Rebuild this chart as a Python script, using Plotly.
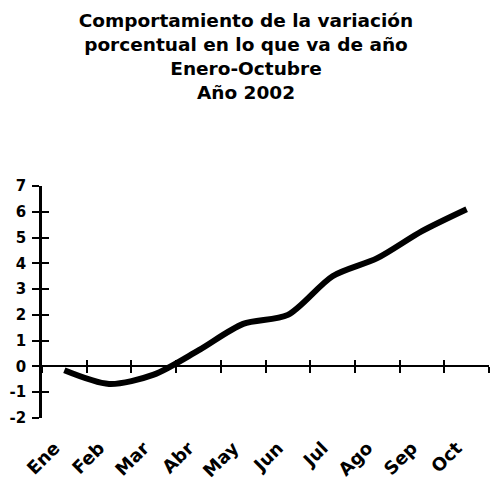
import plotly.graph_objects as go

meses = ["Ene", "Feb", "Mar", "Abr", "May", "Jun", "Jul", "Ago", "Sep", "Oct"]
variacion = [-0.15, -0.68, -0.32, 0.62, 1.65, 2.0, 3.5, 4.2, 5.25, 6.1]
y_ticks = [7, 6, 5, 4, 3, 2, 1, 0, -1, -2]
y_tick_labels = ["7", "6", "5", "4", "3", "2", "1", "0", "-1", "-2"]

titulo = ("Comportamiento de la variación<br>porcentual en lo que va de año"
          "<br>Enero-Octubre<br>Año 2002")

pos = list(range(len(meses)))
bounds = [i - 0.5 for i in range(len(meses) + 1)]
ymin, ymax = -2, 7
zero_frac = (0 - ymin) / (ymax - ymin)
font = "DejaVu Sans, Liberation Sans, Arial, sans-serif"

fig = go.Figure()
fig.add_trace(go.Scatter(x=pos, y=variacion, mode="lines",
                         line=dict(color="black", width=6, shape="spline", smoothing=0.8),
                         xaxis="x", yaxis="y", hoverinfo="skip", showlegend=False))
for xa, ya in [("x2", "y"), ("x3", "y"), ("x", "y3")]:
    fig.add_trace(go.Scatter(x=pos, y=variacion, mode="lines",
                             line=dict(color="rgba(0,0,0,0)", width=0),
                             xaxis=xa, yaxis=ya, hoverinfo="skip", showlegend=False))

xr = [-0.5, len(meses) - 0.5]
lab_shift = 0.22  # moves month labels slightly left of the category centres
fig.update_layout(
    width=492, height=485,
    margin=dict(l=42, r=3, t=186, b=67),
    paper_bgcolor="white", plot_bgcolor="white",
    showlegend=False,
    title=dict(text=titulo, x=0.5, xanchor="center", y=0.944, yanchor="top",
               font=dict(family=font, size=18.5, color="black", weight="bold")),
    xaxis=dict(range=xr, anchor="free", position=zero_frac, showgrid=False, zeroline=False,
               showline=True, linecolor="black", linewidth=2, automargin=False,
               tickmode="array", tickvals=bounds, ticks="outside", ticklen=6,
               tickwidth=2, tickcolor="black", showticklabels=False),
    xaxis3=dict(range=xr, overlaying="x", anchor="free", position=zero_frac,
                showgrid=False, zeroline=False, showline=False, automargin=False,
                tickmode="array", tickvals=bounds, ticks="inside", ticklen=6,
                tickwidth=2, tickcolor="black", showticklabels=False),
    xaxis2=dict(range=[xr[0] + lab_shift, xr[1] + lab_shift], overlaying="x", anchor="y",
                side="bottom", automargin=False,
                showgrid=False, zeroline=False, showline=False, ticks="",
                tickmode="array", tickvals=pos, ticktext=meses, tickangle=-45,
                ticklabelstandoff=15,
                tickfont=dict(family=font, size=18, color="black", weight="bold")),
    yaxis=dict(range=[ymin, ymax], showgrid=False, zeroline=False, automargin=False,
               showline=True, linecolor="black", linewidth=2.5,
               tickmode="array", tickvals=y_ticks, ticktext=y_tick_labels,
               ticks="outside", ticklen=7, tickwidth=2, tickcolor="black",
               ticklabelstandoff=3,
               tickfont=dict(family=font, size=15, color="black", weight="bold")),
    yaxis3=dict(range=[ymin, ymax], overlaying="y", anchor="x", showgrid=False,
                zeroline=False, showline=False, automargin=False,
                tickmode="array", tickvals=y_ticks,
                ticks="inside", ticklen=7, tickwidth=2, tickcolor="black",
                showticklabels=False),
)

fig.write_html("out.html", config={"displayModeBar": False},
               post_script="document.body.style.margin='0';")
